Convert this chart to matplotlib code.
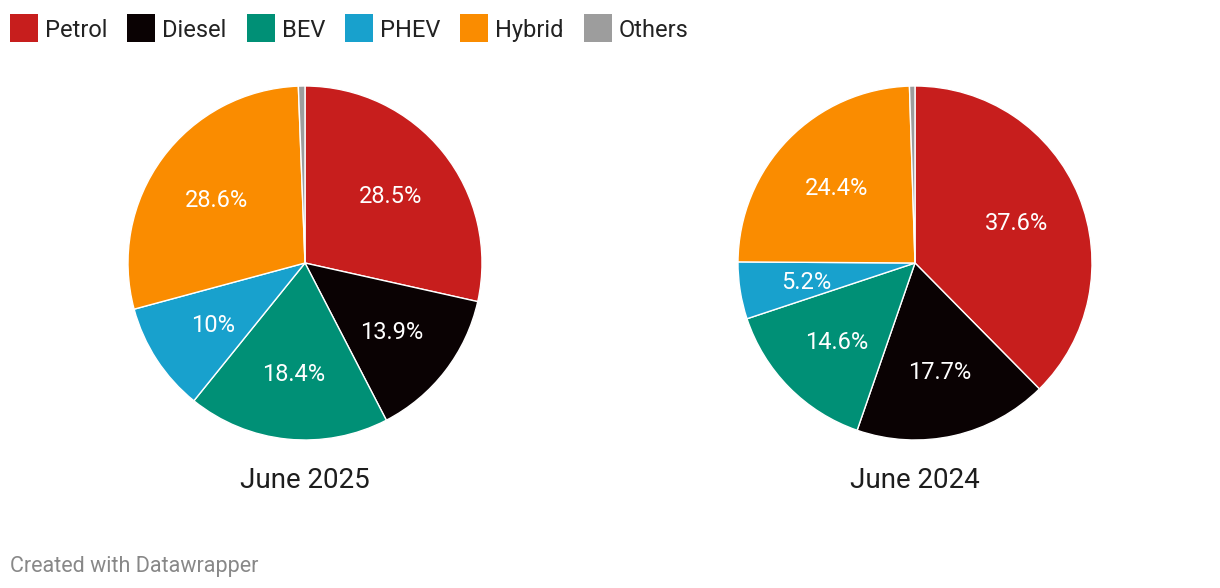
import matplotlib.pyplot as plt
import matplotlib.patches as mpatches

plt.rcParams['font.family'] = ['Roboto', 'DejaVu Sans']

# data
categories = ['Petrol', 'Diesel', 'BEV', 'PHEV', 'Hybrid', 'Others']
colors = ['#c71e1d', '#0a0203', '#009076', '#18a1cd', '#fa8c00', '#9d9d9d']
share_2025 = [28.5, 13.9, 18.4, 10.0, 28.6, 0.6]
share_2024 = [37.6, 17.7, 14.6, 5.2, 24.4, 0.5]
titles = ['June 2025', 'June 2024']

W, H = 1220, 588
fig = plt.figure(figsize=(W / 100, H / 100), dpi=100)
fig.patch.set_facecolor('white')

R = 177
centers = [(305, 263), (915, 263)]

def pct_label(v):
    return '' if v < 3 else f'{v:g}%'

for (cx, cy), vals, title in zip(centers, [share_2025, share_2024], titles):
    ax = fig.add_axes([(cx - R) / W, (H - cy - R) / H, 2 * R / W, 2 * R / H])
    wedges, texts = ax.pie(vals, colors=colors, startangle=90, counterclock=False,
                           radius=1.0, labels=[pct_label(v) for v in vals],
                           labeldistance=0.62,
                           wedgeprops=dict(edgecolor='white', linewidth=1.0),
                           textprops=dict(color='white', fontsize=17, ha='center', va='center'))
    for t in texts:
        t.set_ha('center')
        t.set_va('center_baseline')
    ax.set_xlim(-1, 1)
    ax.set_ylim(-1, 1)
    ax.set_aspect('equal')
    ax.axis('off')
    fig.text(cx / W, 1 - 477 / H, title, ha='center', va='center_baseline',
             fontsize=20, color='#1d1d1d')

# legend along the top
fig.canvas.draw()
renderer = fig.canvas.get_renderer()
x = 10
sq = 28
ly = 28
for cat, col in zip(categories, colors):
    fig.patches.append(mpatches.Rectangle((x / W, 1 - (ly + sq / 2) / H), sq / W, sq / H,
                                          transform=fig.transFigure, facecolor=col,
                                          edgecolor='none'))
    t = fig.text((x + sq + 7) / W, 1 - ly / H, cat, ha='left', va='center_baseline',
                 fontsize=17, color='#222222')
    bb = t.get_window_extent(renderer)
    x = x + sq + 7 + bb.width + 20

fig.text(10 / W, 1 - 564 / H, 'Created with Datawrapper', ha='left', va='center_baseline',
         fontsize=15.5, color='#888888')

fig.savefig('out.png', dpi=100)
